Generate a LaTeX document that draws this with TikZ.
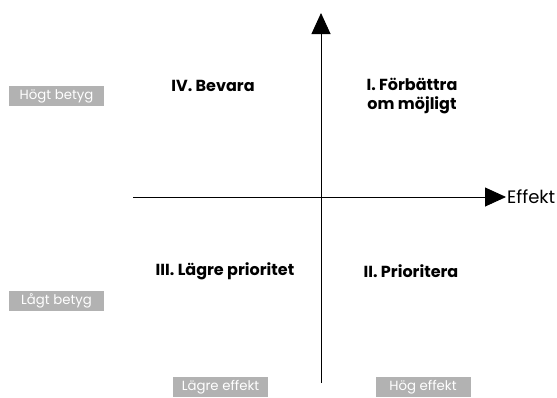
\documentclass[tikz,border=0pt]{standalone}
\usepackage{fontspec}
\setmainfont{Poppins}
\usetikzlibrary{arrows.meta}
\definecolor{tagGray}{RGB}{178,178,178}
\tikzset{
  quad/.style={font=\bfseries\fontsize{16}{18.5}\selectfont, align=center, inner sep=0pt},
  tag/.style={fill=tagGray, text=white, font=\fontsize{13.3}{16}\selectfont, minimum width=95pt, minimum height=20pt, inner sep=0pt},
  axis/.style={draw, line width=0.9pt, -{Triangle[length=21pt,width=19pt]}},
}
\begin{document}
\begin{tikzpicture}[x=1pt,y=-1pt]
\useasboundingbox (0,0) rectangle (557,397);

\coordinate (bottom) at (321,383);
\coordinate (top) at (321,13);
\coordinate (left) at (133,197);
\coordinate (right) at (506,197);

\node[quad] (iv) at (213,86) {IV. Bevara};
\node[quad] (i) at (412,96) {I. Förbättra\\om möjligt};
\node[quad] (iii) at (225,271) {III. Lägre prioritet};
\node[quad] (ii) at (411,271) {II. Prioritera};

\node[tag] (hogt) at (56.5,96) {Högt betyg};
\node[tag] (lagt) at (56.5,301) {Lågt betyg};
\node[tag] (lagre) at (220.5,387) {Lägre effekt};
\node[tag] (hog) at (423,387) {Hög effekt};

\path[axis] (bottom) -- (top);
\path[axis] (left) -- (right);
\node[anchor=west, inner sep=1pt, font=\fontsize{18}{20}\selectfont] (effekt) at (right) {Effekt};
\end{tikzpicture}
\end{document}
